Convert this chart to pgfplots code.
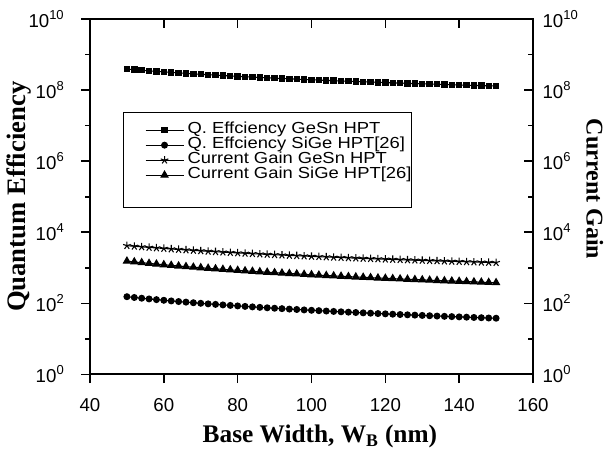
\documentclass[border=0pt]{standalone}
\usepackage{fontspec}
\setmainfont{Liberation Sans}
\newfontfamily\serifbf{Liberation Serif}
\newfontfamily\legendfont{Liberation Sans}[FakeStretch=1.15]
\newcommand\lgtext[1]{{\legendfont\fontsize{12}{13}\selectfont #1\hspace{18pt}}}
\newcommand\sci[1]{10\raisebox{6pt}{\fontsize{9.75}{10}\selectfont #1}}
\usepackage{pgfplots}
\pgfplotsset{compat=1.18}
\usepackage{pgfplotstable}

% x = base width (nm); q1/q2 = quantum efficiency, c1/c2 = current gain
\pgfplotstableread{
x q1 q2 c1 c2
50 3.900e8 154.0 4200 1540
52 3.750e8 146.5 4038 1465
54 3.611e8 139.7 3889 1397
56 3.482e8 133.3 3750 1333
58 3.362e8 127.5 3621 1275
60 3.250e8 122.2 3500 1222
62 3.145e8 117.2 3387 1172
64 3.047e8 112.6 3281 1126
66 2.955e8 108.3 3182 1082
68 2.868e8 104.2 3088 1042
70 2.786e8 100.5 3000 1005
72 2.708e8 96.9 2917 969
74 2.635e8 93.6 2838 936
76 2.566e8 90.5 2763 905
78 2.500e8 87.6 2692 875
80 2.438e8 84.8 2625 848
82 2.378e8 82.2 2561 822
84 2.321e8 79.7 2500 797
86 2.267e8 77.3 2442 773
88 2.216e8 75.1 2386 751
90 2.167e8 73.0 2333 730
92 2.120e8 71.0 2283 710
94 2.074e8 69.1 2234 691
96 2.031e8 67.3 2188 673
98 1.990e8 65.5 2143 655
100 1.950e8 63.9 2100 639
102 1.912e8 62.3 2059 623
104 1.875e8 60.8 2019 608
106 1.840e8 59.3 1981 593
108 1.806e8 57.9 1944 579
110 1.773e8 56.6 1909 566
112 1.741e8 55.3 1875 553
114 1.711e8 54.1 1842 541
116 1.681e8 52.9 1810 529
118 1.653e8 51.7 1780 517
120 1.625e8 50.7 1750 507
122 1.598e8 49.6 1721 496
124 1.573e8 48.6 1694 486
126 1.548e8 47.6 1667 476
128 1.523e8 46.7 1641 467
130 1.500e8 45.8 1615 458
132 1.477e8 44.9 1591 449
134 1.455e8 44.0 1567 440
136 1.434e8 43.2 1544 432
138 1.413e8 42.4 1522 424
140 1.393e8 41.7 1500 417
142 1.373e8 40.9 1479 409
144 1.354e8 40.2 1458 402
146 1.336e8 39.5 1438 395
148 1.318e8 38.8 1419 388
150 1.300e8 38.2 1400 382
}\datatable

\begin{document}
\begin{tikzpicture}
\begin{axis}[
  width=332.25pt, height=266.6pt, scale only axis,
  at={(0pt,0pt)}, anchor=south west,
  xmin=40, xmax=160, ymode=log, ymin=1, ymax=1e10,
  ytick={1,1e2,1e4,1e6,1e8,1e10},
  minor ytick={10,1e3,1e5,1e7,1e9},
  yticklabels={\sci{0},\sci{2},\sci{4},\sci{6},\sci{8},\sci{10}},
  /pgf/number format/assume math mode=true,
  tick label style={font=\fontsize{14}{16}\selectfont, inner sep=0pt},
  yticklabel shift=13pt,
  xticklabel style={yshift=-11.4pt},
  major tick length=6.5pt, minor tick length=3.5pt,
  tick style={black, line width=1.2pt},
  clip=false,
  axis line style={line width=1.5pt},
  xtick={40,60,...,160},
  xtick pos=left, ytick pos=left, tick align=outside,
  legend style={at={(0.0745,0.738)}, anchor=north west, draw=black, line width=0.8pt,
    cells={anchor=west}, inner xsep=0pt, inner ysep=7.5pt, row sep=0pt, column sep=0pt,
    nodes={inner sep=0pt, text height=7.85pt, text depth=3.4pt}},
  legend image code/.code={
    \path[draw=none, fill=none] (0pt,0pt) rectangle (48pt,0.1pt);
    \draw[mark repeat=2,mark phase=2] plot coordinates {(16.5pt,0pt) (30.75pt,0pt) (45pt,0pt)};},
]
\addplot[black, line width=0.8pt, mark=square*, mark size=2pt, mark options={solid, fill=black}] table[x=x, y=q1] {\datatable};
\addlegendentry{\lgtext{Q. Effciency GeSn HPT}}
\addplot[black, line width=0.8pt, mark=*, mark size=2.2pt, mark options={solid, fill=black}] table[x=x, y=q2] {\datatable};
\addlegendentry{\lgtext{Q. Effciency SiGe HPT[26]}}
\addplot[black, line width=0.8pt, mark=star, mark size=3pt, mark options={solid}] table[x=x, y=c1] {\datatable};
\addlegendentry{\lgtext{Current Gain GeSn HPT}}
\addplot[black, line width=0.8pt, mark=triangle*, mark size=3pt, mark options={solid, fill=black}] table[x=x, y=c2] {\datatable};
\addlegendentry{\lgtext{Current Gain SiGe HPT[26]}}
\addlegendimage{empty legend}
\addlegendentry{\lgtext{}}
\node[rotate=90, anchor=south, inner sep=0pt, font=\serifbf\bfseries\fontsize{20}{22}\selectfont]
  at (rel axis cs:-0.1309,0.5) {Quantum Efficiency};
\node[anchor=base, inner sep=0pt, font=\serifbf\bfseries\fontsize{19}{21}\selectfont]
  at (rel axis cs:0.519,-0.1927) {Base Width, W\textsubscript{B} (nm)};
\end{axis}
\begin{axis}[
  width=332.25pt, height=266.6pt, scale only axis,
  at={(0pt,0pt)}, anchor=south west,
  xmin=40, xmax=160, ymode=log, ymin=1, ymax=1e10,
  ytick={1,1e2,1e4,1e6,1e8,1e10},
  minor ytick={10,1e3,1e5,1e7,1e9},
  yticklabels={\sci{0},\sci{2},\sci{4},\sci{6},\sci{8},\sci{10}},
  tick label style={font=\fontsize{14}{16}\selectfont, inner sep=0pt},
  yticklabel shift=7pt,
  major tick length=6.5pt, minor tick length=3.5pt,
  tick style={black, line width=1.2pt},
  clip=false,
  axis line style={draw=none},
  xtick={60,80,...,140}, xticklabels={},
  xtick pos=right, ytick pos=right, yticklabel pos=right, tick align=inside,
]
\node[rotate=-90, anchor=south, inner sep=0pt, font=\serifbf\bfseries\fontsize{18}{20}\selectfont]
  at (rel axis cs:1.1196,0.5218) {Current Gain};
\end{axis}
\pgfresetboundingbox
\path (-67.5pt,-55.9pt) rectangle (392.25pt,280.85pt);
\end{tikzpicture}
\end{document}
